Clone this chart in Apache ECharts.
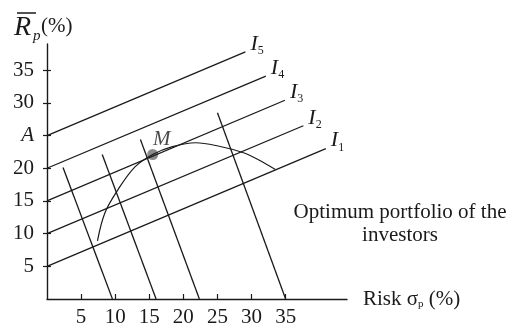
<!DOCTYPE html>
<html><head><meta charset="utf-8">
<script src="https://cdn.jsdelivr.net/npm/echarts@6/dist/echarts.min.js"></script>
<style>html,body{margin:0;padding:0;background:#fff}#c{width:515px;height:328px}</style>
</head><body><div id="c"></div>
<script>
// Indifference lines I1..I5 : [start, end] points (x = risk %, y = return %)
var indiffNames = ['1','2','3','4','5'];
var indiffLines = [
  [[0, 5],  [40.9, 23.0]],
  [[0, 10], [37.6, 26.5]],
  [[0, 15], [34.9, 30.4]],
  [[0, 20], [32.1, 34.1]],
  [[0, 25], [29.1, 37.8]]
];
// Steep descending lines
var steepLines = [
  [[2.35, 20.1], [9.6, 0]],
  [[8.1, 22.1],  [16.0, 0]],
  [[13.7, 24.4], [22.35, 0]],
  [[25.0, 28.5], [35.0, 0]]
];
// Efficient frontier curve
var frontier = [
  [7.4, 8.9], [8.5, 13.2], [10.4, 16.7], [12.9, 20.2], [15.5, 22.1],
  [18.4, 23.3], [21.8, 23.9], [25.1, 23.4], [28.7, 22.4], [31.0, 21.3], [33.5, 19.8]
];
var pointM = [15.5, 22.1];
var xTicks = [5, 10, 15, 20, 25, 30, 35];
var yTicks = [5, 10, 15, 20, 25, 30, 35];
var yTickLabels = {5:'5', 10:'10', 15:'15', 20:'20', 25:'A', 30:'30', 35:'35'};

var FONT = '"Liberation Serif", "Times New Roman", serif';
var INK = '#1a1a1a';
var series = [];
indiffLines.forEach(function (pts, i) {
  series.push({
    type: 'line', name: 'I' + indiffNames[i], data: pts, symbol: 'none',
    lineStyle: { color: INK, width: 1.3 }, silent: true, animation: false,
    endLabel: {
      show: true, offset: [-3, -8],
      formatter: '{i|I}{s|' + indiffNames[i] + '}',
      rich: {
        i: { fontFamily: FONT, fontStyle: 'italic', fontSize: 22, color: INK },
        s: { fontFamily: FONT, fontSize: 12, color: INK, padding: [14, 0, 0, 0] }
      }
    }
  });
});
steepLines.forEach(function (pts) {
  series.push({ type: 'line', data: pts, symbol: 'none', animation: false,
    lineStyle: { color: INK, width: 1.3 } });
});
series.push({ type: 'line', data: frontier, symbol: 'none', smooth: 0.35, animation: false,
  lineStyle: { color: INK, width: 1.2 } });
series.push({ type: 'scatter', data: [pointM], symbolSize: 11, animation: false,
  itemStyle: { color: '#6e6e6e' },
  label: { show: true, position: 'top', formatter: 'M', offset: [9, 6],
    fontFamily: FONT, fontStyle: 'italic', fontSize: 21, color: INK } });

var chart = echarts.init(document.getElementById('c'), null, { renderer: 'canvas' });
chart.setOption({
  backgroundColor: '#fff',
  animation: false,
  grid: { left: 47, right: 168, top: 44, bottom: 28 },
  xAxis: {
    type: 'value', min: 0, max: 44, interval: 5,
    name: '{a|Risk σ}{s|p}{a| (%)}', nameLocation: 'end', nameGap: 16,
    nameTextStyle: { rich: {
      a: { fontFamily: FONT, fontSize: 21, color: INK },
      s: { fontFamily: FONT, fontSize: 11, color: INK, padding: [11, 0, 0, 0] } } },
    axisLine: { lineStyle: { color: INK, width: 1.4 } },
    axisTick: { inside: true, length: 5, customValues: xTicks, lineStyle: { color: INK, width: 1.2 } },
    axisLabel: { margin: 8, fontFamily: FONT, fontSize: 21, color: INK, customValues: xTicks },
    splitLine: { show: false }
  },
  yAxis: [{
    type: 'value', min: 0, max: 39, interval: 5,
    axisLine: { show: true, lineStyle: { color: INK, width: 1.4 } },
    axisTick: { show: true, length: 4, customValues: yTicks, lineStyle: { color: INK, width: 1.2 } },
    axisLabel: { margin: 13, fontFamily: FONT, fontSize: 21, color: INK, customValues: yTicks,
      formatter: function (v) { return yTickLabels[v] === 'A' ? '{a|A}' : (yTickLabels[v] || ''); },
      rich: { a: { fontFamily: FONT, fontStyle: 'italic', fontSize: 21, color: INK } } },
    splitLine: { show: false }
  }, {
    type: 'value', min: 0, max: 39, interval: 5, position: 'left',
    axisLine: { show: false },
    axisTick: { show: true, inside: true, length: 4, customValues: yTicks, lineStyle: { color: INK, width: 1.2 } },
    axisLabel: { show: false }, splitLine: { show: false }
  }],
  graphic: [
    { type: 'text', left: 14, top: 14, style: { text: 'R', font: 'italic 28px ' + FONT, fill: INK } },
    { type: 'line', shape: { x1: 17, y1: 13, x2: 36, y2: 13 }, style: { stroke: INK, lineWidth: 1.5 } },
    { type: 'text', left: 33, top: 29, style: { text: 'p', font: 'italic 15px ' + FONT, fill: INK } },
    { type: 'text', left: 41, top: 16, style: { text: '(%)', font: '21px ' + FONT, fill: INK } },
    { type: 'text', x: 400, y: 212, style: { text: 'Optimum portfolio of the', font: '21px ' + FONT,
        fill: INK, textAlign: 'center', textVerticalAlign: 'middle' } },
    { type: 'text', x: 400, y: 235, style: { text: 'investors', font: '21px ' + FONT,
        fill: INK, textAlign: 'center', textVerticalAlign: 'middle' } }
  ],
  series: series
});
</script></body></html>
